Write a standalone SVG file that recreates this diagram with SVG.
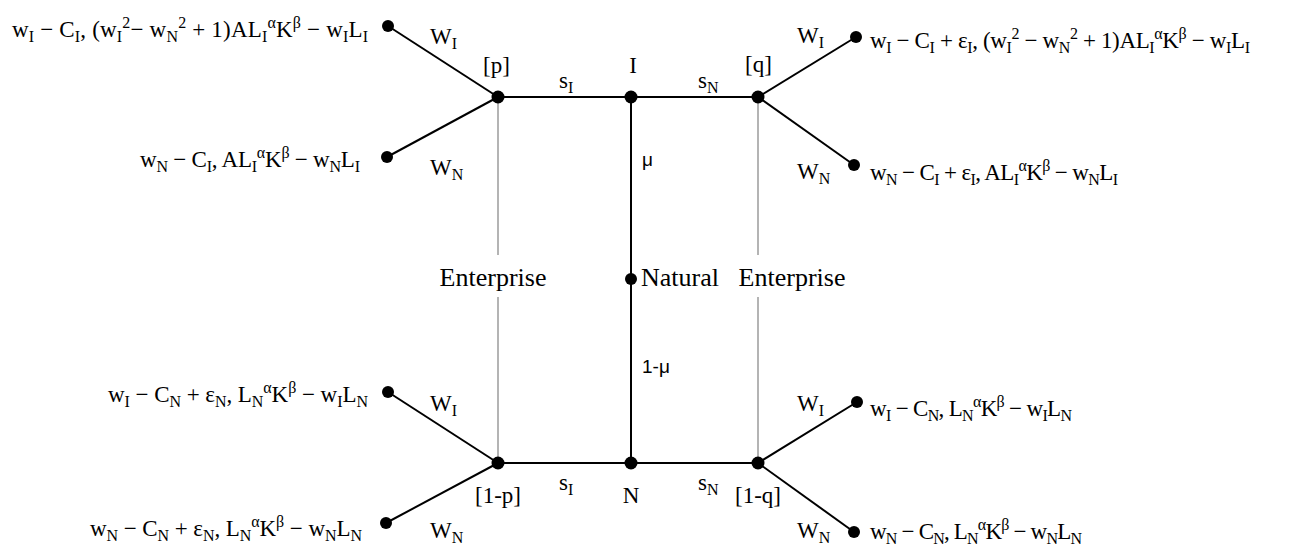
<svg xmlns="http://www.w3.org/2000/svg" width="1294" height="545" viewBox="0 0 1294 545">
<style>
.bg{fill:#ffffff}
.e{stroke:#000;stroke-width:2;fill:none}
.g{stroke:#b4b4b4;stroke-width:2;fill:none}
.d{fill:#000}
.m{font-family:"Liberation Serif","DejaVu Serif",serif;font-size:23px;fill:#000}
.t{font-family:"Liberation Serif","DejaVu Serif",serif;font-size:23px;fill:#000}
.big{font-family:"Liberation Serif","DejaVu Serif",serif;font-size:26px;fill:#000}
.sans{font-family:"Liberation Sans","Open Sans",sans-serif;font-size:19px;fill:#000}
.sb{font-size:16px;baseline-shift:-5px}
.sp{font-size:16px;baseline-shift:9px}
</style>
<rect class="bg" x="0" y="0" width="1294" height="545"/>
<g id="connectors">
<line class="e" x1="498" y1="97" x2="758" y2="97"/>
<line class="e" x1="498" y1="463" x2="758" y2="463"/>
<line class="e" x1="631" y1="97" x2="631" y2="463"/>
<line class="g" x1="498" y1="97" x2="498" y2="255"/>
<line class="g" x1="498" y1="297" x2="498" y2="463"/>
<line class="g" x1="758" y1="97" x2="758" y2="255"/>
<line class="g" x1="758" y1="297" x2="758" y2="463"/>
<line class="e" x1="498" y1="97" x2="388" y2="26"/>
<line class="e" x1="498" y1="97" x2="387" y2="157"/>
<line class="e" x1="758" y1="97" x2="856" y2="37"/>
<line class="e" x1="758" y1="97" x2="854" y2="165"/>
<line class="e" x1="498" y1="463" x2="388" y2="392"/>
<line class="e" x1="498" y1="463" x2="386" y2="523"/>
<line class="e" x1="758" y1="463" x2="857" y2="402"/>
<line class="e" x1="758" y1="463" x2="854" y2="532"/>
</g>
<g id="edge-labels">
<text class="m" x="430" y="44">W<tspan class="sb">I</tspan></text>
<text class="m" x="430" y="175">W<tspan class="sb">N</tspan></text>
<text class="m" x="797" y="43">W<tspan class="sb">I</tspan></text>
<text class="m" x="797" y="179">W<tspan class="sb">N</tspan></text>
<text class="m" x="430" y="411">W<tspan class="sb">I</tspan></text>
<text class="m" x="430" y="538">W<tspan class="sb">N</tspan></text>
<text class="m" x="797" y="411">W<tspan class="sb">I</tspan></text>
<text class="m" x="797" y="538">W<tspan class="sb">N</tspan></text>
<text class="m" x="559" y="88">s<tspan class="sb">I</tspan></text>
<text class="m" x="698" y="88">s<tspan class="sb">N</tspan></text>
<text class="m" x="559" y="490">s<tspan class="sb">I</tspan></text>
<text class="m" x="698" y="490">s<tspan class="sb">N</tspan></text>
<text class="sans" x="642" y="166">μ</text>
<text class="sans" x="642" y="373">1-μ</text>
</g>
<g id="node-p">
<circle class="d" cx="498" cy="97" r="6.5"/>
<text class="t" x="483" y="73">[p]</text>
</g>
<g id="node-I">
<circle class="d" cx="631" cy="97" r="6.5"/>
<text class="t" x="633" y="73" text-anchor="middle">I</text>
</g>
<g id="node-q">
<circle class="d" cx="758" cy="97" r="6.5"/>
<text class="t" x="745" y="72">[q]</text>
</g>
<g id="node-1p">
<circle class="d" cx="498" cy="463" r="6.5"/>
<text class="t" x="475" y="503">[1-p]</text>
</g>
<g id="node-N">
<circle class="d" cx="631" cy="463" r="6.5"/>
<text class="t" x="631" y="503" text-anchor="middle">N</text>
</g>
<g id="node-1q">
<circle class="d" cx="758" cy="463" r="6.5"/>
<text class="t" x="735" y="503">[1-q]</text>
</g>
<g id="node-natural">
<circle class="d" cx="631" cy="279" r="6"/>
<text class="big" x="641" y="286">Natural</text>
</g>
<g id="label-enterprise-left">
<text class="big" x="493" y="286" text-anchor="middle">Enterprise</text>
</g>
<g id="label-enterprise-right">
<text class="big" x="792" y="286" text-anchor="middle">Enterprise</text>
</g>
<g id="leaf-tl">
<circle class="d" cx="388" cy="26" r="6"/>
<text class="m" x="368" y="37" text-anchor="end" textLength="356" lengthAdjust="spacing">w<tspan class="sb">I</tspan> − C<tspan class="sb">I</tspan>, (w<tspan class="sb">I</tspan><tspan class="sp">2</tspan>− w<tspan class="sb">N</tspan><tspan class="sp">2</tspan> + 1)AL<tspan class="sb">I</tspan><tspan class="sp">α</tspan>K<tspan class="sp">β</tspan> − w<tspan class="sb">I</tspan>L<tspan class="sb">I</tspan></text>
</g>
<g id="leaf-ml">
<circle class="d" cx="387" cy="157" r="6"/>
<text class="m" x="360" y="167" text-anchor="end" textLength="220" lengthAdjust="spacing">w<tspan class="sb">N</tspan> − C<tspan class="sb">I</tspan>, AL<tspan class="sb">I</tspan><tspan class="sp">α</tspan>K<tspan class="sp">β</tspan> − w<tspan class="sb">N</tspan>L<tspan class="sb">I</tspan></text>
</g>
<g id="leaf-tr">
<circle class="d" cx="856" cy="37" r="6"/>
<text class="m" x="870" y="48" textLength="380" lengthAdjust="spacing">w<tspan class="sb">I</tspan> − C<tspan class="sb">I</tspan> + ε<tspan class="sb">I</tspan>, (w<tspan class="sb">I</tspan><tspan class="sp">2</tspan> − w<tspan class="sb">N</tspan><tspan class="sp">2</tspan> + 1)AL<tspan class="sb">I</tspan><tspan class="sp">α</tspan>K<tspan class="sp">β</tspan> − w<tspan class="sb">I</tspan>L<tspan class="sb">I</tspan></text>
</g>
<g id="leaf-mr">
<circle class="d" cx="854" cy="165" r="6"/>
<text class="m" x="870" y="180" textLength="248" lengthAdjust="spacing">w<tspan class="sb">N</tspan> − C<tspan class="sb">I</tspan> + ε<tspan class="sb">I</tspan>, AL<tspan class="sb">I</tspan><tspan class="sp">α</tspan>K<tspan class="sp">β</tspan> − w<tspan class="sb">N</tspan>L<tspan class="sb">I</tspan></text>
</g>
<g id="leaf-bl-upper">
<circle class="d" cx="388" cy="392" r="6"/>
<text class="m" x="368" y="402" text-anchor="end" textLength="260" lengthAdjust="spacing">w<tspan class="sb">I</tspan> − C<tspan class="sb">N</tspan> + ε<tspan class="sb">N</tspan>, L<tspan class="sb">N</tspan><tspan class="sp">α</tspan>K<tspan class="sp">β</tspan> − w<tspan class="sb">I</tspan>L<tspan class="sb">N</tspan></text>
</g>
<g id="leaf-bl-lower">
<circle class="d" cx="386" cy="523" r="6"/>
<text class="m" x="362" y="536" text-anchor="end" textLength="272" lengthAdjust="spacing">w<tspan class="sb">N</tspan> − C<tspan class="sb">N</tspan> + ε<tspan class="sb">N</tspan>, L<tspan class="sb">N</tspan><tspan class="sp">α</tspan>K<tspan class="sp">β</tspan> − w<tspan class="sb">N</tspan>L<tspan class="sb">N</tspan></text>
</g>
<g id="leaf-br-upper">
<circle class="d" cx="857" cy="402" r="6"/>
<text class="m" x="870" y="416" textLength="202" lengthAdjust="spacing">w<tspan class="sb">I</tspan> − C<tspan class="sb">N</tspan>, L<tspan class="sb">N</tspan><tspan class="sp">α</tspan>K<tspan class="sp">β</tspan> − w<tspan class="sb">I</tspan>L<tspan class="sb">N</tspan></text>
</g>
<g id="leaf-br-lower">
<circle class="d" cx="854" cy="532" r="6"/>
<text class="m" x="870" y="539" textLength="212" lengthAdjust="spacing">w<tspan class="sb">N</tspan> − C<tspan class="sb">N</tspan>, L<tspan class="sb">N</tspan><tspan class="sp">α</tspan>K<tspan class="sp">β</tspan> − w<tspan class="sb">N</tspan>L<tspan class="sb">N</tspan></text>
</g>
</svg>
